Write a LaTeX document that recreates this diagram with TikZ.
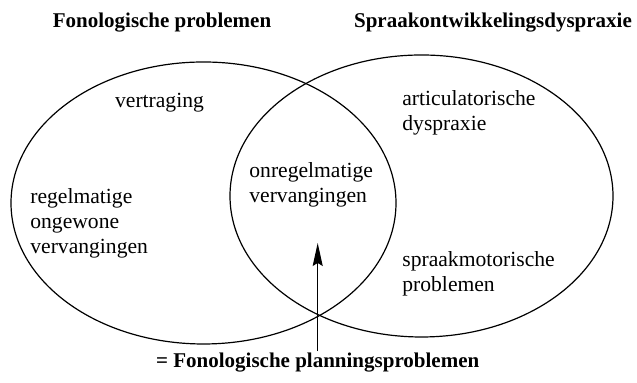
\documentclass[tikz,border=0pt]{standalone}
\usepackage{fontspec}
\setmainfont{Liberation Serif}
\usepackage{tikz}
\usetikzlibrary{arrows.meta}
\tikzstyle{term}=[font=\fontsize{10.8}{12.5}\selectfont,align=left,inner sep=0pt,anchor=north west]
\tikzstyle{heading}=[font=\fontsize{10.5}{12.5}\selectfont\bfseries,inner sep=0pt,anchor=base]
\tikzstyle{venn}=[draw,line width=0.6pt]
\tikzstyle{pointer}=[draw,line width=0.6pt,-{Stealth[length=11.5pt,width=5pt,inset=1.5pt]}]

\begin{document}
\begin{tikzpicture}[x=0.5pt,y=0.5pt]
      \useasboundingbox (0,0) rectangle (637,383);
      \draw[venn] (203.5,180) ellipse (192.5 and 141);
      \draw[venn] (421.5,187) ellipse (191.5 and 141);
      \node[heading] (fon) at (162,355) {Fonologische problemen};
      \node[heading] (sod) at (493,355) {Spraakontwikkelingsdyspraxie};
      \node[term,anchor=base] (vert) at (159.5,275) {vertraging};
      \node[term] (regel) at (30,195.3) {regelmatige\\ongewone\\vervangingen};
      \node[term] (onregel) at (249,221.3) {onregelmatige\\vervangingen};
      \node[term] (artic) at (402,293) {articulatorische\\dyspraxie};
      \node[term] (motor) at (402,132) {spraakmotorische\\problemen};
      \node[heading,inner sep=1pt] (plan) at (317.7,15) {= Fonologische planningsproblemen};
      \coordinate (tip) at (317.7,140);
      \draw[pointer] (plan) -- (tip);
    \end{tikzpicture}
\end{document}
